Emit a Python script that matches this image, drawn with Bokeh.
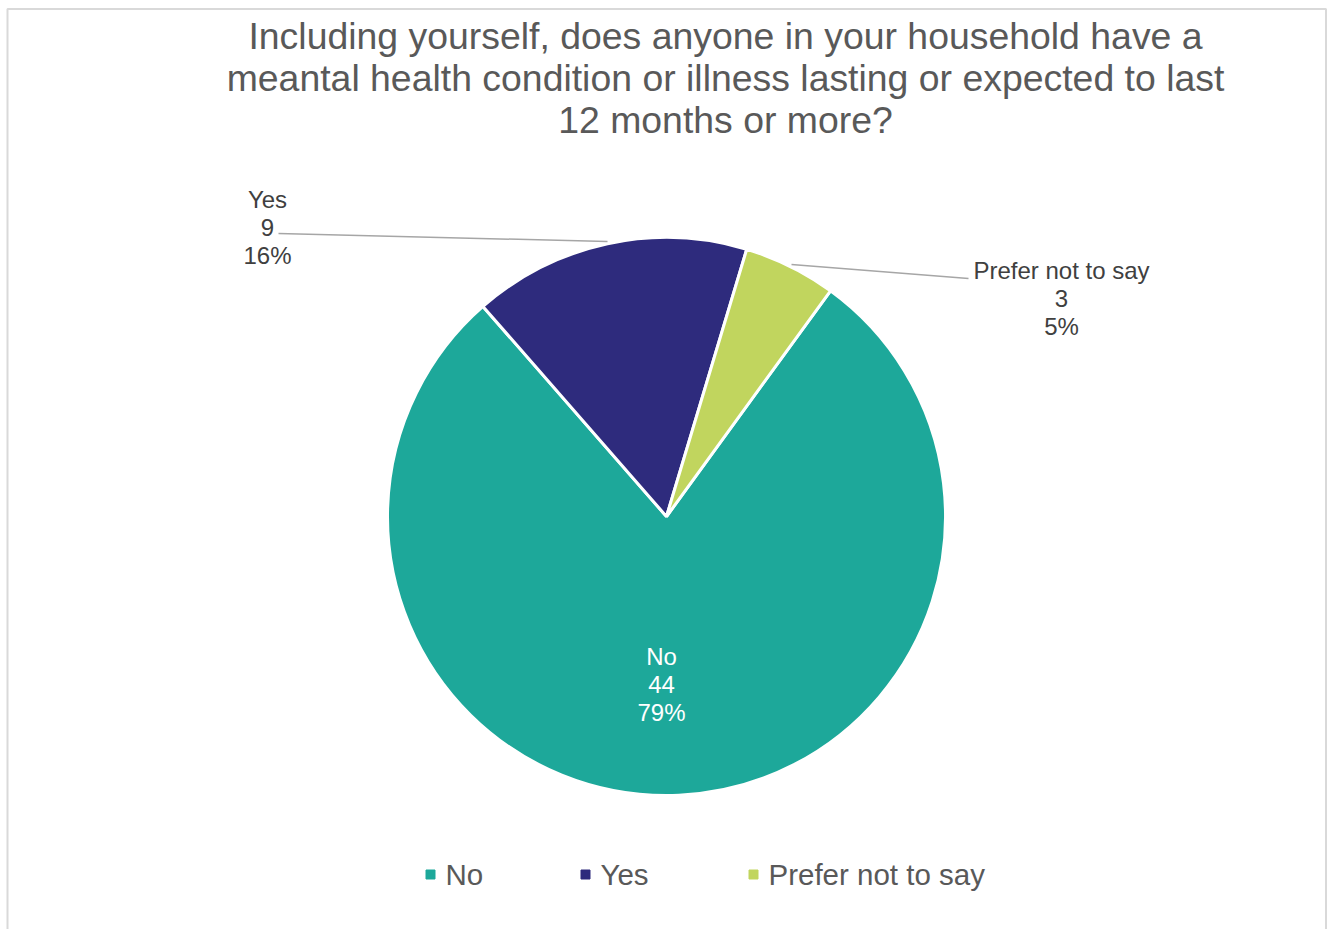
import math
from bokeh.plotting import figure
from bokeh.models import Range1d, ColumnDataSource
from bokeh.core.properties import value
from bokeh.embed import file_html
from bokeh.resources import INLINE

# ---- data ----
categories = ["No", "Yes", "Prefer not to say"]
counts = [44, 9, 3]
colors = ["#1DA89A", "#2E2B7D", "#C1D55E"]
title_lines = [
    "Including yourself, does anyone in your household have a",
    "meantal health condition or illness lasting or expected to last",
    "12 months or more?",
]

W, H = 1327, 929
FONT = value("Liberation Sans")

def X(px):  # reference pixel -> data
    return px

def Y(py):
    return H - py

p = figure(width=W, height=H, output_backend="svg", toolbar_location=None,
           x_range=Range1d(0, W), y_range=Range1d(0, H), min_border=0)
p.axis.visible = False
p.grid.visible = False
p.outline_line_color = None
p.background_fill_color = "white"
p.border_fill_color = "white"

# chart-area border
p.quad(left=[X(7)], right=[X(1325.5)], top=[Y(8.5)], bottom=[Y(940)],
       fill_color=None, line_color="#D9D9D9", line_width=2)

total = sum(counts)
pcts = [round(100 * c / total) for c in counts]

# pie: first slice starts 36 degrees clockwise from 12 o'clock
offset = 36.0
starts, ends = [], []
cum = offset
for c in counts:
    th1 = cum
    th2 = cum + 360.0 * c / total
    starts.append(math.radians(90 - th2))
    ends.append(math.radians(90 - th1))
    cum = th2

cx, cy, r = X(666), Y(516), 279
src = ColumnDataSource(dict(start=starts, end=ends, color=colors, cat=categories))
p.wedge(x=cx, y=cy, radius=r, start_angle="start", end_angle="end",
        direction="anticlock", fill_color="color", line_color="white",
        line_width=3, source=src)

# title
for i, t in enumerate(title_lines):
    p.text(x=[X(725)], y=[Y(35 + 42 * i)], text=[t], text_font=FONT,
           text_font_size="37.4px", text_color="#595959",
           text_align="center", text_baseline="middle")

# leader lines
p.line(x=[X(278), X(607)], y=[Y(233), Y(241)], line_color="#A6A6A6", line_width=1.5)
p.line(x=[X(791), X(968)], y=[Y(264), Y(278)], line_color="#A6A6A6", line_width=1.5)

# data labels
label_pos = [(661, 656, "white"), (267, 199, "#404040"), (1061, 270, "#404040")]
for (lx, ly, col), cat, n, pc in zip(label_pos, categories, counts, pcts):
    for j, t in enumerate([cat, str(n), f"{pc}%"]):
        p.text(x=[X(lx)], y=[Y(ly + 28 * j)], text=[t], text_font=FONT,
               text_font_size="24px", text_color=col,
               text_align="center", text_baseline="middle")

# legend
leg_x = [430, 585, 753]
for lx, cat, col in zip(leg_x, categories, colors):
    p.scatter(x=[X(lx)], y=[Y(874)], marker="square", size=9,
              fill_color=col, line_color=col)
    p.text(x=[X(lx + 15)], y=[Y(874)], text=[cat], text_font=FONT,
           text_font_size="29.5px", text_color="#595959",
           text_align="left", text_baseline="middle")

open("out.html", "w").write(file_html(p, INLINE))
